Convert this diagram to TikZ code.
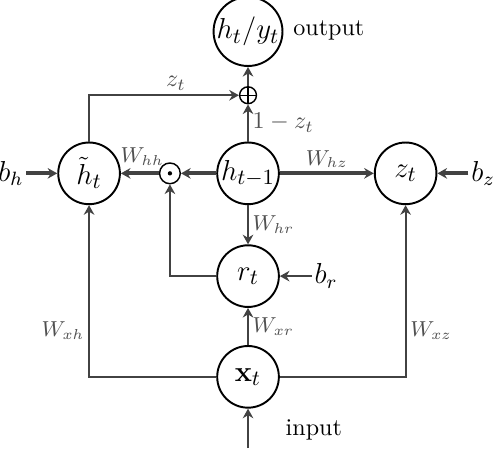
\documentclass[tikz,border=0pt]{standalone}
\usepackage{amssymb,amsmath}
\usepackage{tikz}
\usetikzlibrary{arrows.meta,calc,positioning}
\definecolor{xLine}{RGB}{66,66,66}
\definecolor{xLabel}{RGB}{80,80,80}

\begin{document}
\begin{tikzpicture}[
    unit/.style={circle, draw=black, thick, minimum size=0.9cm, inner sep=0pt, font=\fontsize{13}{15}\selectfont},
    mult/.style={circle, draw=black, semithick, minimum size=8.6pt, inner sep=0pt,
      path picture={\fill (path picture bounding box.center) circle (0.9pt);}},
    plus/.style={circle, draw=black, semithick, minimum size=7pt, inner sep=0pt,
      path picture={
        \draw (path picture bounding box.north) -- (path picture bounding box.south);
        \draw (path picture bounding box.west) -- (path picture bounding box.east);}},
    bias/.style={inner sep=1pt, font=\large},
    lbl/.style={text=xLabel, inner sep=1.5pt},
    wire/.style={draw=xLine, line width=0.9pt, -{Stealth[length=4pt, width=4.4pt, inset=1.3pt]}},
    thickwire/.style={wire, line width=1.6pt},
  ]
    \useasboundingbox (0,0) rectangle (7.21,6.54);

    % cells
    \node[unit] (out) at (3.62,6.08) {$h_t/y_t$};
    \node[unit] (hprev) at (3.62,4.01) {$h_{t-1}$};
    \node[unit] (htil) at (1.30,4.01) {$\tilde{h}_t$};
    \node[unit] (zt) at (5.92,4.01) {$z_t$};
    \node[unit] (rt) at (3.62,2.51) {$r_t$};
    \node[unit] (xt) at (3.62,1.04) {$\mathbf{x}_t$};
    \node[mult] (prod) at (2.48,4.01) {};
    \node[plus] (sum) at (3.62,5.15) {};

    % biases and text
    \node[bias] (bh) at (0.16,4.01) {$b_h$};
    \node[bias] (bz) at (7.05,4.01) {$b_z$};
    \node[bias] (br) at (4.76,2.51) {$b_r$};
    \node (outtext) at (4.80,6.10) {output};
    \node (intext) at (4.58,0.26) {input};
    \coordinate (in) at (3.62,0);

    % input side
    \draw[wire] (in) -- (xt);
    \draw[wire] (xt.west) -- (xt.west -| htil) -- node[lbl, left, pos=0.27] {\small$W_{xh}$} (htil.south);
    \draw[wire] (xt.east) -- (xt.east -| zt) -- node[lbl, right, pos=0.27] {\small$W_{xz}$} (zt.south);
    \draw[wire] (xt) -- node[lbl, right] {\small$W_{xr}$} (rt);
    \draw[wire] (br) -- (rt);

    % reset gate
    \draw[wire] (hprev) -- node[lbl, right] {\small$W_{hr}$} (rt);
    \draw[wire] (rt.west) -- (rt.west -| prod) -- (prod);

    % middle row
    \draw[thickwire] (bh) -- (htil);
    \draw[thickwire] (hprev) -- (prod);
    \draw[thickwire] (prod) -- node[lbl, above, yshift=1pt, xshift=1pt] {\small$W_{hh}$} (htil);
    \draw[thickwire] (hprev) -- node[lbl, above] {\small$W_{hz}$} (zt);
    \draw[thickwire] (bz) -- (zt);

    % output
    \draw[wire] (hprev) -- node[lbl, right] {$1-z_t$} (sum);
    \draw[wire] (htil.north) -- (htil.north |- sum) -- node[lbl, above, pos=0.58] {$z_t$} (sum);
    \draw[wire] (sum) -- (out);

\end{tikzpicture}
\end{document}
